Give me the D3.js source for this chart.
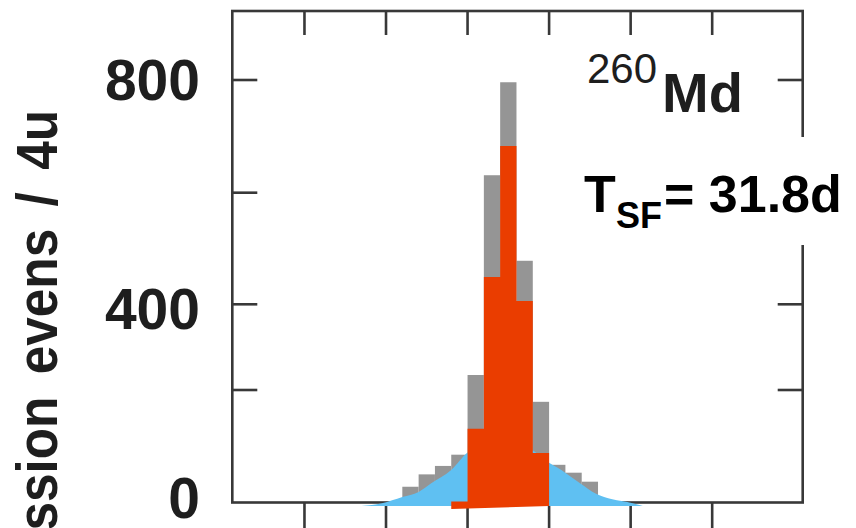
<!DOCTYPE html>
<html>
<head>
<meta charset="utf-8">
<script src="https://cdn.jsdelivr.net/npm/d3@7"></script>
<style>
    body { margin: 0; background: #fff; }
    svg { display: block; }
</style>
</head>
<body>
<svg id="chart" width="856" height="528"></svg>
<script>
// fission fragment mass bins, 4u wide (left edge of each bin)
const binStarts = [104, 108, 112, 116, 120, 124, 128, 132, 136, 140, 144, 148];
const allEvents = [28, 50, 65, 85, 235, 631, 796, 478, 179, 67, 53, 37];

// selected (red) component
const redStarts = [116, 120, 124, 128, 132, 136];
const redEvents = [2, 131, 449, 683, 406, 88];

// broad (blue) component
const fitMass = [94, 99, 104, 108, 111, 116, 120, 124, 128, 132, 136, 139, 143, 147.5, 151.5, 155.5, 160, 163];
const fitCounts = [0, 5, 16, 25, 40, 64, 95, 110, 115, 110, 99, 82, 64, 41, 22, 12, 6, 0];

const xTicks = [80, 100, 120, 140, 160, 180];
const yTicks = [200, 400, 600, 800];
const yLabels = [0, 400, 800];
const binWidth = 4;

const svg = d3.select('#chart');
const frame = {left: 232.3, right: 802.7, top: 11, bottom: 502.5};

var x = d3.scaleLinear()
    .domain([62.3, 202.2])
    .range([frame.left, frame.right]);

// the lower part of the axis is squeezed in the picture
var y = d3.scaleLinear()
    .domain([0, 200, 400, 600, 800])
    .range([502.5, 390, 304.3, 192.7, 80]);

const ink = '#383838';

// frame
svg.append('rect')
    .attr('x', frame.left).attr('y', frame.top)
    .attr('width', frame.right - frame.left)
    .attr('height', frame.bottom - frame.top)
    .style('fill', 'none').style('stroke', ink).style('stroke-width', 2.6);

// ticks: bottom outward, top / left / right inward
var tk = svg.append('g').style('stroke', ink).style('stroke-width', 2.6);
tk.selectAll('.bt').data(xTicks).enter().append('line')
    .attr('x1', d => x(d)).attr('x2', d => x(d))
    .attr('y1', frame.bottom).attr('y2', frame.bottom + 30);
tk.selectAll('.tt').data(xTicks).enter().append('line')
    .attr('x1', d => x(d)).attr('x2', d => x(d))
    .attr('y1', frame.top).attr('y2', frame.top + 24);
tk.selectAll('.lt').data(yTicks).enter().append('line')
    .attr('x1', frame.left).attr('x2', frame.left + 25)
    .attr('y1', d => y(d)).attr('y2', d => y(d));
tk.selectAll('.rt').data(yTicks).enter().append('line')
    .attr('x1', frame.right - 25).attr('x2', frame.right)
    .attr('y1', d => y(d)).attr('y2', d => y(d));

// y tick labels (hand placed in the source, small nudges)
svg.selectAll('.ylab').data(yLabels).enter().append('text')
    .attr('x', 200)
    .attr('y', d => y(d) + (d === 0 ? -5 : d === 400 ? 4 : -1))
    .attr('dy', '0.36em')
    .style('text-anchor', 'end')
    .style('font-family', 'Liberation Sans, Arial, sans-serif')
    .style('font-weight', 'bold').style('font-size', '57px')
    .style('fill', '#1e1e1e')
    .text(d => d);

// y title (cut by the page edge like in the source)
svg.append('text')
    .attr('transform', 'translate(57,110) rotate(-90) scale(0.9,1)')
    .style('text-anchor', 'end')
    .style('font-family', 'Liberation Sans, Arial, sans-serif')
    .style('font-weight', 'bold').style('font-size', '57px')
    .style('word-spacing', '9px')
    .style('fill', '#1e1e1e')
    .text('fission evens / 4u');

// grey histogram
svg.append('g').selectAll('rect').data(binStarts).enter().append('rect')
    .attr('x', d => x(d))
    .attr('width', d => x(d + binWidth) - x(d))
    .attr('y', (d, i) => y(allEvents[i]))
    .attr('height', (d, i) => y(0) - y(allEvents[i]))
    .style('fill', '#959595');

// blue component
var area = d3.area()
    .x(d => x(d[0]))
    .y0(y(0) + 3.5)
    .y1(d => y(d[1]) + 3.5)
    .curve(d3.curveMonotoneX);
svg.append('path')
    .datum(fitMass.map((m, i) => [m, fitCounts[i]]))
    .attr('d', area)
    .style('fill', '#5fc0f2');

// red component as one step outline, bottom edge slightly tilted
var pts = [[x(redStarts[0]), y(0) + 6.5]];
redStarts.forEach(function (s, i) {
    pts.push([x(s), y(redEvents[i])]);
    pts.push([x(s + binWidth), y(redEvents[i])]);
});
pts.push([x(redStarts[redStarts.length - 1] + binWidth), y(0) + 3.5]);
svg.append('path')
    .attr('d', d3.line()(pts) + 'Z')
    .style('fill', '#ea3d00');

// nuclide label
var nuc = svg.append('text')
    .style('font-family', 'Liberation Sans, Arial, sans-serif')
    .style('fill', '#1e1e1e');
nuc.append('tspan').attr('x', 587).attr('y', 83)
    .style('font-size', '42px').text('260');
nuc.append('tspan').attr('x', 662).attr('y', 112)
    .style('font-size', '56px').style('font-weight', 'bold').text('Md');

// half-life box over the right edge
svg.append('rect')
    .attr('x', 578).attr('y', 137).attr('width', 278).attr('height', 108)
    .style('fill', '#fff');
var hl = svg.append('text')
    .style('font-family', 'Liberation Sans, Arial, sans-serif')
    .style('font-weight', 'bold')
    .style('fill', '#000');
hl.append('tspan').attr('x', 584).attr('y', 212)
    .style('font-size', '52px').text('T');
hl.append('tspan').attr('x', 616).attr('y', 228)
    .style('font-size', '36px').text('SF');
hl.append('tspan').attr('x', 664).attr('y', 212)
    .style('font-size', '52px').text('= 31.8d');
</script>
</body>
</html>
